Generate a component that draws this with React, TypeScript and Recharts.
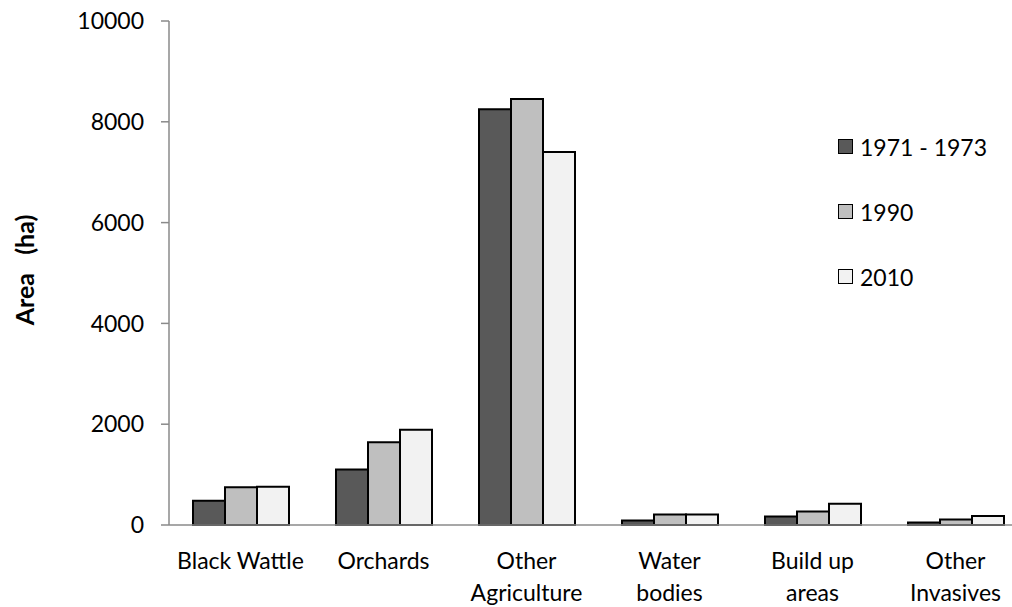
import { BarChart, Bar, XAxis, YAxis } from 'recharts'

const categories = [
  'Black Wattle',
  'Orchards',
  'Other\nAgriculture',
  'Water\nbodies',
  'Build up\nareas',
  'Other\nInvasives',
]

const period1971 = [480, 1100, 8250, 90, 170, 50]
const period1990 = [750, 1640, 8450, 210, 270, 110]
const period2010 = [760, 1890, 7400, 210, 420, 180]

const yTicks = [0, 2000, 4000, 6000, 8000, 10000]

const series = [
  { key: 'p1971', name: '1971 - 1973', fill: '#595959' },
  { key: 'p1990', name: '1990', fill: '#bfbfbf' },
  { key: 'p2010', name: '2010', fill: '#f2f2f2' },
]

const data = categories.map((name, i) => ({
  name,
  p1971: period1971[i],
  p1990: period1990[i],
  p2010: period2010[i],
}))

const FONT = 'Lato, Calibri, sans-serif'

function CategoryTick(props: any) {
  const { x, y, payload } = props
  const lines = String(payload.value).split('\n')
  return (
    <text x={x} y={y} textAnchor="middle" fontFamily={FONT} fontSize={23} fill="#000">
      {lines.map((line, i) => (
        <tspan key={i} x={x} dy={i === 0 ? 44 : 32}>
          {line}
        </tspan>
      ))}
    </text>
  )
}

// legend kept outside the chart so it does not eat into the plot area
function SeriesLegend() {
  return (
    <div
      style={{
        position: 'absolute',
        left: 838,
        top: 114,
        fontFamily: FONT,
        fontSize: 23,
        color: '#000',
      }}
    >
      {series.map((s) => (
        <div key={s.key} style={{ display: 'flex', alignItems: 'center', height: 65 }}>
          <span
            style={{
              display: 'inline-block',
              width: 13,
              height: 13,
              background: s.fill,
              border: '1.5px solid #000',
              marginRight: 7,
            }}
          />
          <span>{s.name}</span>
        </div>
      ))}
    </div>
  )
}

export default function App() {
  return (
    <div
      style={{
        position: 'absolute',
        left: 0,
        top: 0,
        width: 1012,
        height: 607,
        overflow: 'hidden',
        background: '#fff',
      }}
    >
      <BarChart
        width={1030}
        height={607}
        data={data}
        margin={{ top: 21, right: 3, bottom: 52, left: 0 }}
        barCategoryGap={24}
        barGap={0}
      >
        <XAxis
          dataKey="name"
          interval={0}
          height={30}
          tickLine={false}
          tickSize={0}
          tickMargin={0}
          tick={<CategoryTick />}
          axisLine={{ stroke: '#8a8a8a', strokeWidth: 1.5 }}
        />
        <YAxis
          width={169}
          domain={[0, 10000]}
          ticks={yTicks}
          tickSize={8}
          tickMargin={17}
          tick={{ fontFamily: FONT, fontSize: 23, fill: '#000' }}
          tickLine={{ stroke: '#8a8a8a', strokeWidth: 1.5 }}
          axisLine={{ stroke: '#8a8a8a', strokeWidth: 1.5 }}
        />
        {series.map((s) => (
          <Bar
            key={s.key}
            dataKey={s.key}
            name={s.name}
            fill={s.fill}
            stroke="#000"
            strokeWidth={2}
            isAnimationActive={false}
          />
        ))}
      </BarChart>
      <SeriesLegend />
      <svg
        width={60}
        height={607}
        style={{ position: 'absolute', left: 0, top: 0, pointerEvents: 'none' }}
      >
        <text
          x={24}
          y={270}
          transform="rotate(-90 24 270)"
          textAnchor="middle"
          dominantBaseline="central"
          fontFamily={FONT}
          fontWeight="bold"
          fontSize={25}
          fill="#000"
          style={{ whiteSpace: 'pre' }}
        >
          {'Area   (ha)'}
        </text>
      </svg>
    </div>
  )
}
